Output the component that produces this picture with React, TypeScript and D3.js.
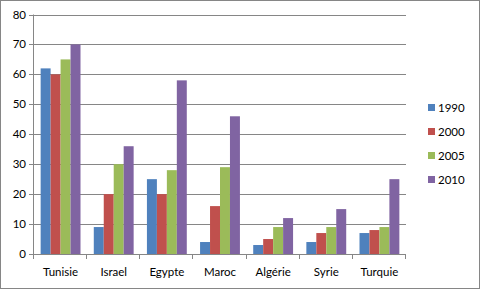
import React from "react";
import * as d3 from "d3";

const categories = ["Tunisie", "Israel", "Egypte", "Maroc", "Algérie", "Syrie", "Turquie"];
const seriesNames = ["1990", "2000", "2005", "2010"];
const values1990 = [62, 9, 25, 4, 3, 4, 7];
const values2000 = [60, 20, 20, 16, 5, 7, 8];
const values2005 = [65, 30, 28, 29, 9, 9, 9];
const values2010 = [70, 36, 58, 46, 12, 15, 25];
const yTicks = [0, 10, 20, 30, 40, 50, 60, 70, 80];
const colors = ["#4F81BD", "#C0504D", "#9BBB59", "#8064A2"];

const series = [values1990, values2000, values2005, values2010];

export default function App() {
  const W = 480, H = 289;
  const left = 34, right = 406, top = 14.5, bottom = 254;
  const x = d3.scaleBand().domain(categories).range([left, right]).paddingInner(0.25).paddingOuter(0.125);
  const x0 = d3.scaleBand().domain(categories).range([left, right]);
  const xs = d3.scaleBand().domain(seriesNames).range([0, x.bandwidth()]);
  const y = d3.scaleLinear().domain([0, 80]).range([bottom, top]);
  const font = "Lato, 'Open Sans', sans-serif";
  const grid = "#868686";
  return (
    <svg width={W} height={H} style={{ position: "absolute", left: 0, top: 0 }} fontFamily={font}>
      <rect x={0.5} y={0.5} width={W - 1} height={H - 1} fill="#fff" stroke={grid} />
      {yTicks.map((t) => (
        <g key={t}>
          {t > 0 && <line x1={left} x2={right} y1={Math.round(y(t)) + 0.5} y2={Math.round(y(t)) + 0.5} stroke={grid} />}
          <line x1={left - 5} x2={left} y1={Math.round(y(t)) + 0.5} y2={Math.round(y(t)) + 0.5} stroke={grid} />
          <text x={26} y={y(t)} dy="0.35em" textAnchor="end" fontSize={11.5} fill="#000">{t}</text>
        </g>
      ))}
      {series.map((vals, si) =>
        vals.map((v, ci) => (
          <rect
            key={si + "-" + ci}
            x={(x(categories[ci]) as number) + (xs(seriesNames[si]) as number)}
            y={y(v)}
            width={xs.bandwidth()}
            height={bottom - y(v)}
            fill={colors[si]}
          />
        ))
      )}
      <line x1={left - 0.5} x2={left - 0.5} y1={top} y2={bottom} stroke={grid} />
      <line x1={left} x2={right} y1={bottom + 0.5} y2={bottom + 0.5} stroke={grid} />
      {categories.map((c, i) => (
        <line key={"t" + i} x1={Math.round(x0(c) as number) - 0.5} x2={Math.round(x0(c) as number) - 0.5} y1={bottom} y2={bottom + 5} stroke={grid} />
      ))}
      <line x1={right - 0.5} x2={right - 0.5} y1={bottom} y2={bottom + 5} stroke={grid} />
      {categories.map((c) => (
        <text key={c} x={(x0(c) as number) + x0.bandwidth() / 2} y={272} dy="0.35em" textAnchor="middle" fontSize={11.5} fill="#000">{c}</text>
      ))}
      {seriesNames.map((s, i) => (
        <g key={s}>
          <rect x={428} y={104 + i * 24} width={7} height={7} fill={colors[i]} />
          <text x={438} y={108 + i * 24} dy="0.35em" fontSize={11.5} fill="#000">{s}</text>
        </g>
      ))}
    </svg>
  );
}
